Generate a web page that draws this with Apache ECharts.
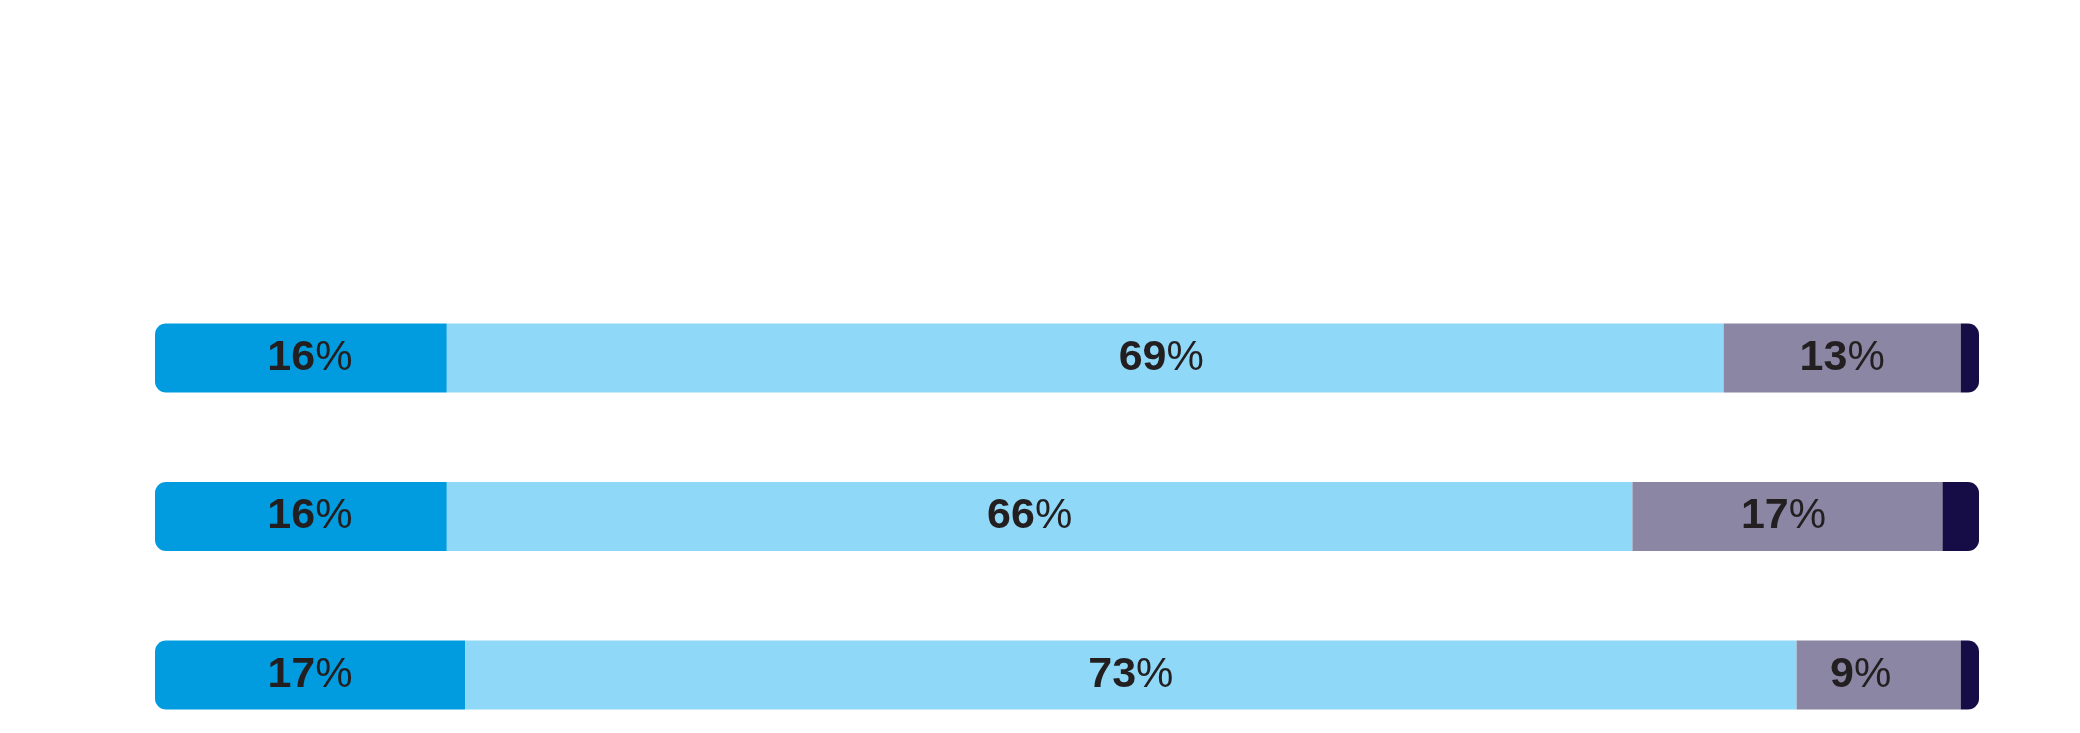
<!DOCTYPE html>
<html>
<head>
<meta charset="utf-8">
<style>
  html, body { margin: 0; padding: 0; background: #fff; }
  #chart { width: 2080px; height: 733px; }
</style>
<script src="https://cdn.jsdelivr.net/npm/echarts@6/dist/echarts.min.js"></script>
</head>
<body>
<div id="chart"></div>
<script>
// rows, top to bottom
const rows = ['A', 'B', 'C'];

// segment shares as drawn
const blueShare = [16, 16, 17];
const lightShare = [70, 65, 73];
const greyShare = [13, 17, 9];
const navyShare = [1, 2, 1];

// numbers printed on the segments
const blueLabels = [16, 16, 17];
const lightLabels = [69, 66, 73];
const greyLabels = [13, 17, 9];

const chart = echarts.init(document.getElementById('chart'));

// small nudges so the printed labels sit where they do in the original
const nudge = {
    blue: [9, 9, 0],
    light: [76, -10, 0],
    grey: [0, -4, -18]
};

const labelRich = {
    n: {
        fontFamily: '"Liberation Sans", Arial, sans-serif',
        fontWeight: 'bold',
        fontSize: 43,
        color: '#231f20'
    },
    p: {
        fontFamily: '"Liberation Sans Narrow", "Liberation Sans", sans-serif',
        fontWeight: 'normal',
        fontSize: 42,
        color: '#231f20'
    }
};

function makeData(values, labels, offsets, radius) {
    return values.map((v, i) => {
        const item = { value: v, itemStyle: { borderRadius: radius } };
        if (labels) {
            item.label = {
                show: true,
                position: 'inside',
                offset: [offsets[i], 0],
                formatter: '{n|' + labels[i] + '}{p|%}',
                rich: labelRich
            };
        }
        return item;
    });
}

function seg(name, color, values, labels, offsets, radius) {
    return {
        name: name,
        type: 'bar',
        stack: 'total',
        barWidth: 69,
        itemStyle: { color: color },
        silent: true,
        data: makeData(values, labels, offsets, radius)
    };
}

chart.setOption({
    animation: false,
    // bar centres sit on the top and bottom edges of the grid
    grid: { left: 155, right: 101, top: 358, bottom: 58, outerBoundsMode: 'none' },
    xAxis: {
        type: 'value',
        min: 0,
        max: 100,
        show: false
    },
    yAxis: {
        type: 'category',
        data: rows,
        inverse: true,
        boundaryGap: false,
        show: false
    },
    series: [
        seg('blue', '#009cdf', blueShare, blueLabels, nudge.blue, [11, 0, 0, 11]),
        seg('light', '#8fd8f7', lightShare, lightLabels, nudge.light, 0),
        seg('grey', '#8a86a3', greyShare, greyLabels, nudge.grey, 0),
        seg('navy', '#170d46', navyShare, null, null, [0, 11, 11, 0])
    ]
});
</script>
</body>
</html>
